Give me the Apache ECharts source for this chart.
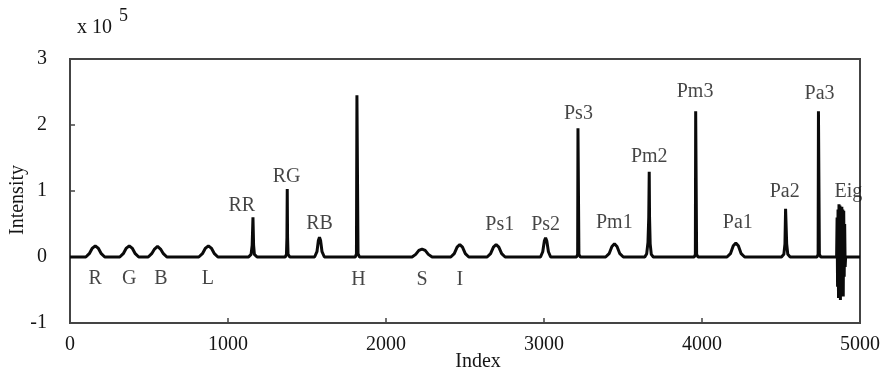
<!DOCTYPE html>
<html><head><meta charset="utf-8">
<script src="https://cdn.jsdelivr.net/npm/echarts@6/dist/echarts.min.js"></script>
<style>html,body{margin:0;padding:0;background:#fff}#c{width:883px;height:373px}</style>
</head><body><div id="c"></div>
<script>
// Intensity in units of 1e5, index along x
const xTicks = [0, 1000, 2000, 3000, 4000, 5000];
const yTicks = [-1, 0, 1, 2, 3];
const pkR   = [[0,0],[100,0],[122,0.05],[140,0.13],[160,0.17],[180,0.13],[198,0.05],[220,0]];
const pkG   = [[315,0],[337,0.05],[355,0.13],[375,0.17],[395,0.13],[413,0.05],[435,0]];
const pkB   = [[495,0],[517,0.05],[535,0.12],[554,0.16],[573,0.12],[591,0.05],[613,0]];
const pkL   = [[815,0],[838,0.05],[856,0.13],[876,0.17],[896,0.13],[914,0.05],[936,0]];
const pkRR  = [[1130,0],[1146,0.04],[1153,0.18],[1158,0.6],[1162,0.18],[1167,0.04],[1184,0]];
const pkRG  = [[1362,0],[1370,0.04],[1373,0.3],[1375,1.03],[1377,0.3],[1380,0.04],[1392,0]];
const pkRB  = [[1548,0],[1563,0.08],[1572,0.25],[1579,0.3],[1586,0.25],[1595,0.08],[1610,0]];
const pkH   = [[1806,0],[1813,0.05],[1816,2.45],[1820,2.45],[1823,0.05],[1832,0]];
const pkS   = [[2165,0],[2188,0.04],[2208,0.1],[2228,0.12],[2248,0.1],[2268,0.04],[2292,0]];
const pkI   = [[2410,0],[2432,0.05],[2450,0.15],[2467,0.19],[2484,0.15],[2502,0.05],[2524,0]];
const pkPs1 = [[2640,0],[2662,0.05],[2680,0.15],[2697,0.19],[2714,0.15],[2732,0.05],[2754,0]];
const pkPs2 = [[2978,0],[2992,0.08],[3002,0.24],[3010,0.29],[3018,0.24],[3028,0.08],[3042,0]];
const pkPs3 = [[3206,0],[3213,0.04],[3215,1.95],[3219,1.95],[3221,0.04],[3230,0]];
const pkPm1 = [[3390,0],[3412,0.05],[3430,0.16],[3446,0.2],[3462,0.16],[3480,0.05],[3502,0]];
const pkPm2 = [[3638,0],[3650,0.05],[3658,0.22],[3663,0.6],[3666,1.29],[3668,0.6],[3672,0.2],[3679,0.04],[3692,0]];
const pkPm3 = [[3951,0],[3958,0.04],[3960,2.21],[3964,2.21],[3966,0.04],[3975,0]];
const pkPa1 = [[4158,0],[4180,0.05],[4198,0.17],[4214,0.21],[4230,0.17],[4248,0.05],[4270,0]];
const pkPa2 = [[4503,0],[4518,0.04],[4525,0.2],[4529,0.73],[4532,0.73],[4536,0.2],[4543,0.04],[4558,0]];
const pkPa3 = [[4728,0],[4735,0.04],[4737,2.21],[4741,2.21],[4743,0.04],[4752,0]];
const pkEig = [[4852,0],[4855,0.6],[4858,-0.45],[4861,0.72],[4864,-0.62],[4867,0.8],[4870,-0.5],[4873,0.78],[4876,-0.65],[4879,0.75],[4882,-0.35],[4885,0.76],[4888,-0.58],[4891,0.72],[4894,-0.6],[4897,0.7],[4900,-0.3],[4903,0.5],[4906,-0.15],[4909,0],[5000,0]];
const peakLabels = ['R','G','B','L','RR','RG','RB','H','S','I','Ps1','Ps2','Ps3','Pm1','Pm2','Pm3','Pa1','Pa2','Pa3','Eig'];
const labelX = [160,375,576,873,1087,1371,1579,1825,2228,2468,2720,3010,3218,3445,3666,3956,4227,4523,4744,4927];
const labelY = [-0.33,-0.33,-0.33,-0.33,0.78,1.22,0.51,-0.34,-0.34,-0.34,0.49,0.49,2.17,0.52,1.52,2.51,0.52,0.99,2.48,0.99];

const trace = [].concat(pkR,pkG,pkB,pkL,pkRR,pkRG,pkRB,pkH,pkS,pkI,pkPs1,pkPs2,pkPs3,pkPm1,pkPm2,pkPm3,pkPa1,pkPa2,pkPa3,pkEig);
const labelData = peakLabels.map((n,i)=>({name:n, value:[labelX[i], labelY[i]]}));

const font = 'Liberation Serif';
const fs = 20;
const txt = '#151515';
const chart = echarts.init(document.getElementById('c'));
chart.setOption({
  animation:false,
  grid:{left:70,right:20,top:59,bottom:50,show:true,borderColor:'#444',borderWidth:2,backgroundColor:'transparent'},
  xAxis:{type:'value',min:xTicks[0],max:xTicks[xTicks.length-1],interval:1000,
    axisLine:{show:true,onZero:false,lineStyle:{color:'#444',width:2}},
    axisTick:{show:true,inside:true,length:5,lineStyle:{color:'#444',width:1.5}},
    axisLabel:{color:txt,fontFamily:font,fontSize:fs,margin:12,formatter:v=>String(v)},
    splitLine:{show:false}},
  yAxis:{type:'value',min:yTicks[0],max:yTicks[yTicks.length-1],interval:1,
    axisLine:{show:true,onZero:false,lineStyle:{color:'#444',width:2}},
    axisTick:{show:true,inside:true,length:5,lineStyle:{color:'#444',width:1.5}},
    axisLabel:{color:txt,fontFamily:font,fontSize:fs,margin:23,formatter:v=>String(v)},
    splitLine:{show:false}},
  graphic:[
    {type:'text',left:77,top:18,style:{text:'x 10',fontFamily:font,fontSize:fs,fill:txt}},
    {type:'text',left:119,top:7,style:{text:'5',fontFamily:font,fontSize:18,fill:txt}},
    {type:'text',x:18,y:200,rotation:Math.PI/2,style:{text:'Intensity',fontFamily:font,fontSize:fs,fill:txt,align:'center',verticalAlign:'middle'}},
    {type:'text',x:478,y:362,style:{text:'Index',fontFamily:font,fontSize:fs,fill:txt,align:'center',verticalAlign:'middle'}}
  ],
  series:[
    {type:'line',data:trace,showSymbol:false,symbol:'none',lineStyle:{color:'#0a0a0a',width:3},z:3},
    {type:'scatter',data:labelData,symbolSize:0,silent:true,
      label:{show:true,position:'inside',formatter:'{b}',fontFamily:font,fontSize:fs,color:txt}}
  ]
});
</script></body></html>
